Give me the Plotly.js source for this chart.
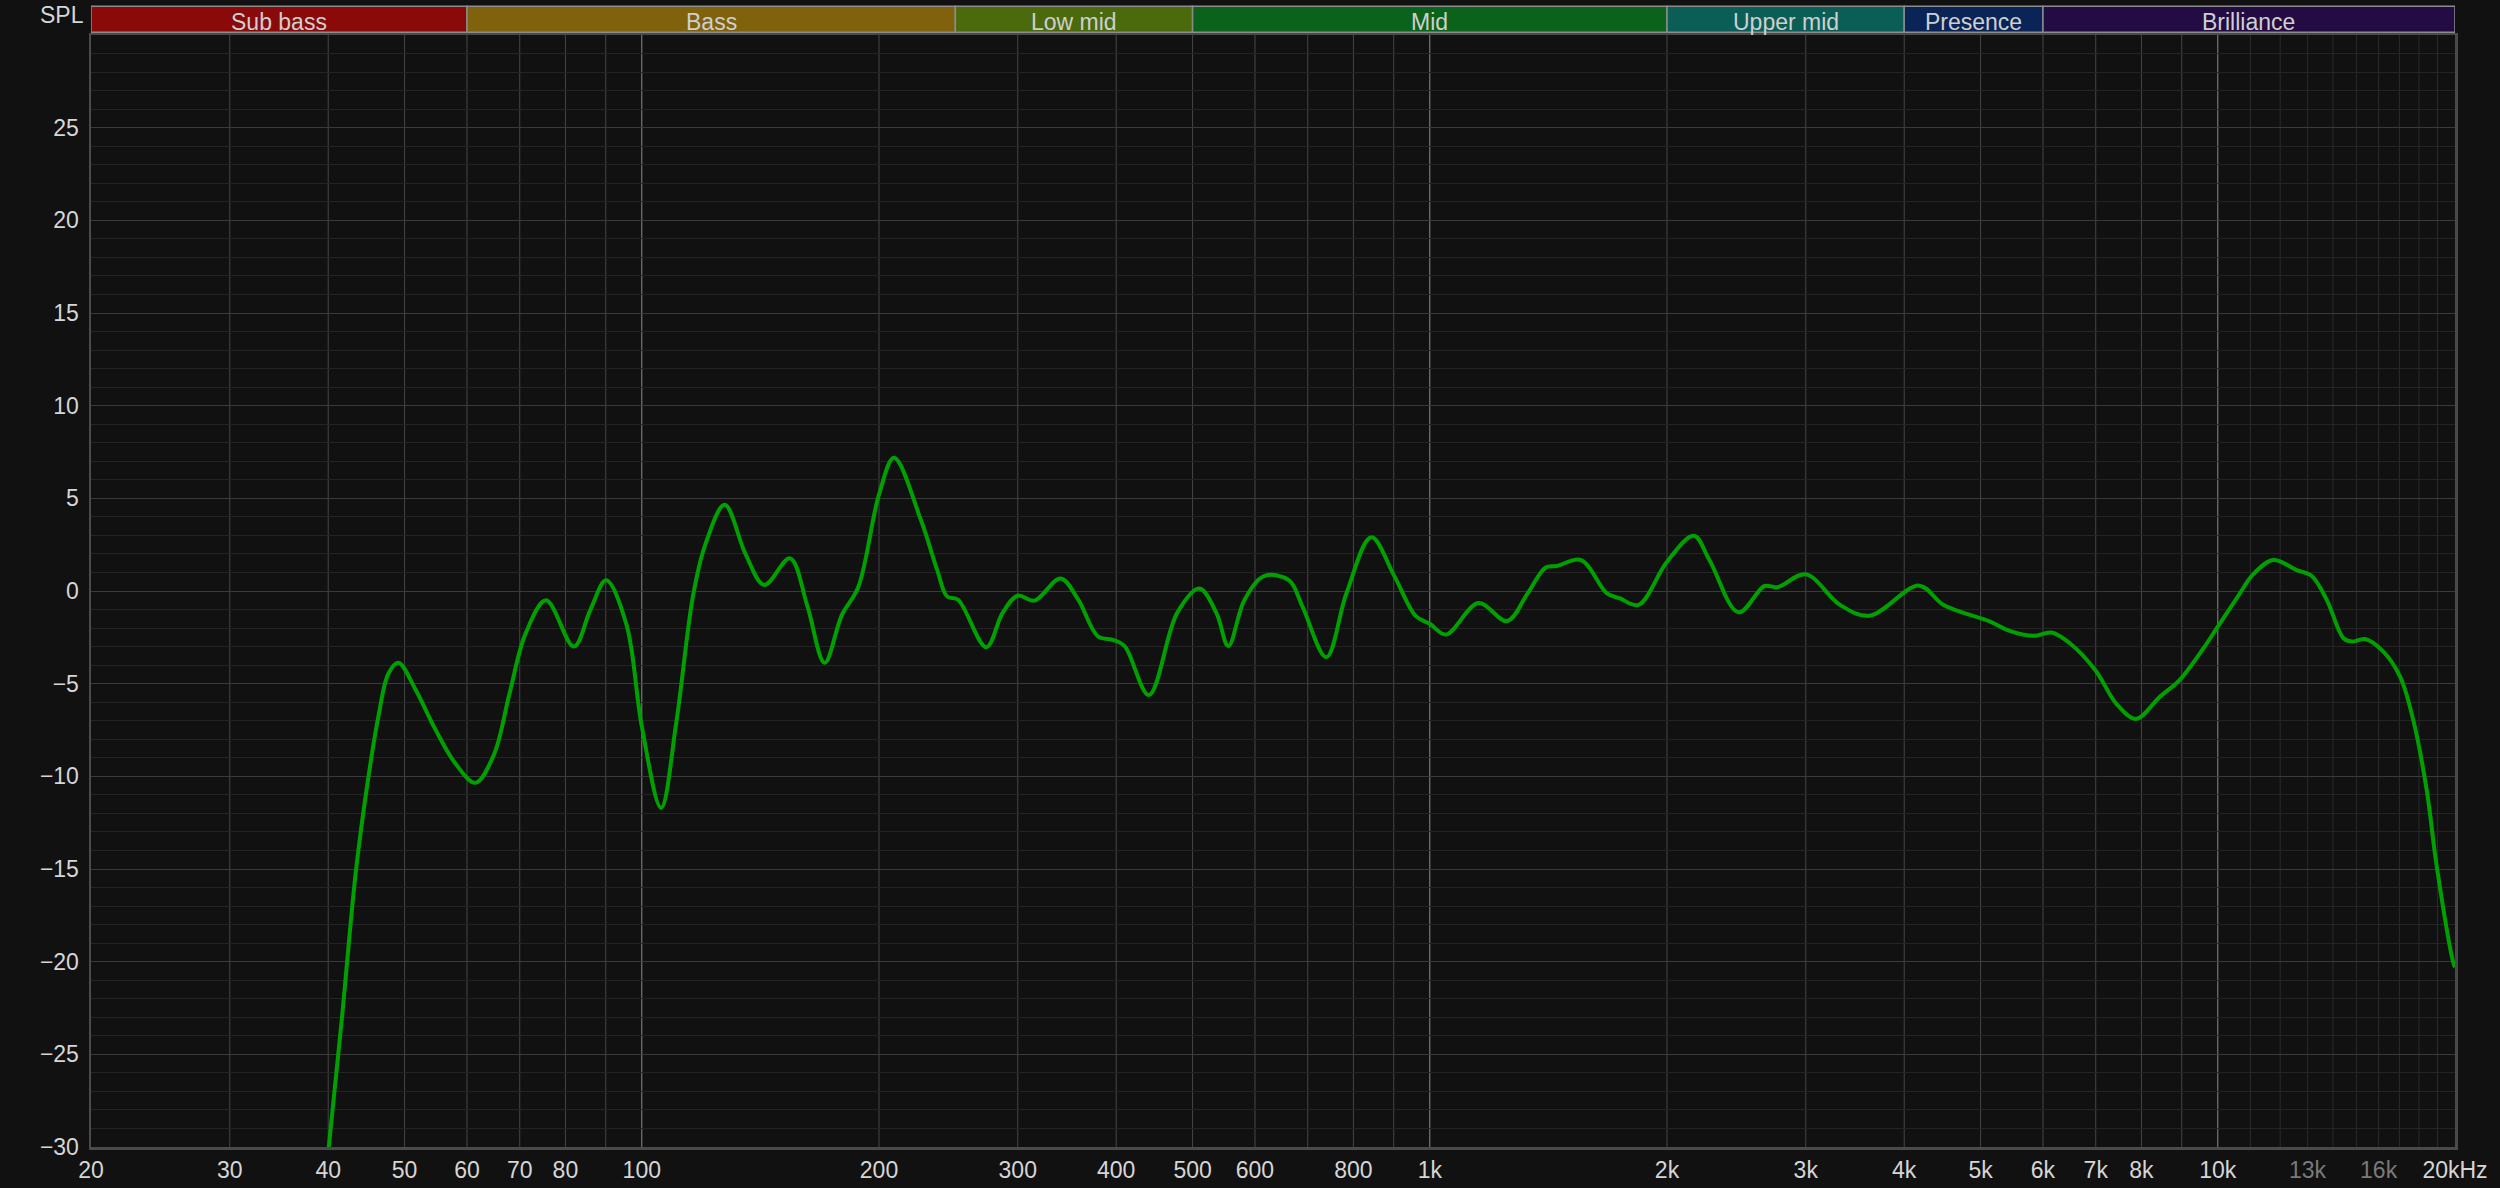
<!DOCTYPE html>
<html>
<head>
<meta charset="utf-8">
<script src="https://cdn.plot.ly/plotly-3.0.1.min.js"></script>
<style>
  html, body { margin: 0; padding: 0; background: #111111; }
  #chart { width: 2500px; height: 1188px; }
</style>
</head>
<body>
<div id="chart"></div>
<script>
// ---- data ----
const freqHz = [40, 41.6, 43.4, 45.0, 46.3, 47.7, 49.1, 51.6, 54.7, 58.1, 61.5, 64.9, 67.9, 71.2, 75.6, 82.0, 86.0, 90.1, 95.6, 100,
  105.8, 110.6, 116.1, 120.3, 127.4, 135.5, 143.0, 154.2, 162.2, 170.6, 179.4, 188.2, 200, 209, 226, 237, 244, 252, 273.6, 287,
  300, 315, 340, 358, 379, 397, 410, 440, 478, 510, 536, 555, 582, 617, 663, 689, 739, 784, 843, 902,
  960, 1000, 1048, 1153, 1253, 1331, 1403, 1449, 1556, 1678, 1741, 1840, 2000, 2163, 2264, 2465, 2660, 2760, 3000, 3316,
  3616, 4178, 4488, 5143, 5430, 5840, 6150, 6490, 7000, 7440, 7870, 8450, 8950, 9590, 10000, 10570, 11100, 11760, 12590, 13160,
  13750, 14440, 14790, 15380, 16220, 17030, 17700, 18410, 18960, 19900, 20000];
const splDb = [-30.3, -23.2, -15.0, -10.0, -6.8, -4.45, -3.87, -5.3, -7.46, -9.35, -10.35, -8.84, -5.58, -2.3, -0.5, -3.0, -1.05, 0.58, -1.8, -7.3,
  -11.7, -7.1, -0.3, 2.46, 4.65, 1.96, 0.33, 1.76, -0.8, -3.87, -1.3, 0.2, 5.2, 7.19, 3.84, 1.15, -0.29, -0.47, -3.03, -1.18,
  -0.25, -0.52, 0.68, -0.47, -2.44, -2.65, -2.97, -5.61, -1.18, 0.13, -1.18, -2.97, -0.47, 0.82, 0.57, -0.82, -3.57, -0.11, 2.9, 0.79,
  -1.36, -1.77, -2.35, -0.65, -1.62, -0.13, 1.27, 1.35, 1.67, -0.13, -0.39, -0.75, 1.58, 2.98, 1.67, -1.15, 0.27, 0.2, 0.9, -0.75,
  -1.33, 0.29, -0.75, -1.65, -2.14, -2.42, -2.24, -2.82, -4.3, -6.1, -6.9, -5.69, -4.79, -3.09, -1.92, -0.39, 0.92, 1.67, 1.13, 0.81,
  -0.48, -2.55, -2.73, -2.59, -3.27, -4.61, -6.95, -10.72, -14.85, -20.05, -20.3];

const bandNames = ['Sub bass', 'Bass', 'Low mid', 'Mid', 'Upper mid', 'Presence', 'Brilliance'];
const bandEdgesHz = [20, 60, 250, 500, 2000, 4000, 6000, 20000];
const bandColors = ['#8a0a0a', '#80620c', '#4a6a0c', '#0b621b', '#0b5e56', '#0b2457', '#230b44'];

const xTickVals = [20, 30, 40, 50, 60, 70, 80, 100, 200, 300, 400, 500, 600, 800, 1000, 2000, 3000, 4000, 5000, 6000, 7000, 8000, 10000, 13000, 16000, 20000];
const xTickText = ['20', '30', '40', '50', '60', '70', '80', '100', '200', '300', '400', '500', '600', '800', '1k', '2k', '3k', '4k', '5k', '6k', '7k', '8k', '10k', '13k', '16k', '20kHz'];
const dimTickLabels = ['13k', '16k'];
const yTickVals = [-30, -25, -20, -15, -10, -5, 0, 5, 10, 15, 20, 25];

const gridHz = [30, 40, 50, 60, 70, 80, 90, 200, 300, 400, 500, 600, 700, 800, 900, 2000, 3000, 4000, 5000, 6000, 7000, 8000, 9000];
const decadeHz = [100, 1000, 10000];
const fineGridHz = [11000, 12000, 13000, 14000, 15000, 16000, 17000, 18000, 19000];

// ---- styling ----
const FONT = '"Liberation Sans", Arial, "DejaVu Sans", sans-serif';
const shapes = [];
function vline(f, color, width) {
  shapes.push({ type: 'line', xref: 'x', yref: 'paper', x0: f, x1: f, y0: 0, y1: 1,
    line: { color: color, width: width }, layer: 'between' });
}
fineGridHz.forEach(f => vline(f, '#2b2b2b', 1));
gridHz.forEach(f => vline(f, '#464646', 1));
decadeHz.forEach(f => vline(f, '#8a8a8a', 1));

const annotations = [];
for (let i = 0; i < bandNames.length; i++) {
  const f0 = bandEdgesHz[i], f1 = bandEdgesHz[i + 1];
  shapes.push({ type: 'rect', xref: 'x', yref: 'paper', ysizemode: 'pixel', yanchor: 1,
    x0: f0, x1: f1, y0: 2.7, y1: 28.7, fillcolor: bandColors[i],
    line: { color: '#8c8c8c', width: 1.5 }, layer: 'above' });
  annotations.push({ xref: 'x', yref: 'paper', x: (Math.log10(f0) + Math.log10(f1)) / 2, y: 1, yanchor: 'middle', xanchor: 'center',
    yshift: 13.5, showarrow: false, text: bandNames[i], font: { family: FONT, size: 23, color: '#cfcfcf' } });
}
annotations.push({ xref: 'paper', yref: 'paper', x: 0, y: 1, xanchor: 'right', yanchor: 'middle', xshift: -5, yshift: 20,
  showarrow: false, text: 'SPL', font: { family: FONT, size: 23, color: '#d6d6d6' } });

const tickText = xTickText.map(t => dimTickLabels.includes(t) ? '<span style="color:#7a7a7a">' + t + '</span>' : t);

const trace = {
  x: freqHz, y: splDb, type: 'scatter', mode: 'lines',
  line: { color: '#00a000', width: 4, shape: 'spline', smoothing: 1 },
  hoverinfo: 'skip'
};

const layout = {
  width: 2500, height: 1188,
  paper_bgcolor: '#111111', plot_bgcolor: '#111111',
  margin: { l: 91, r: 45, t: 35, b: 41, pad: 0 },
  showlegend: false,
  font: { family: FONT, color: '#d6d6d6', size: 23 },
  xaxis: {
    type: 'log', range: [Math.log10(20), Math.log10(20000)],
    tickmode: 'array', tickvals: xTickVals, ticktext: tickText,
    showgrid: false, zeroline: false, ticks: '',
    showline: true, mirror: true, linecolor: '#4a4a4a', linewidth: 2.5,
    tickfont: { family: FONT, size: 23, color: '#d6d6d6' },
    ticklabelstandoff: 1
  },
  yaxis: {
    range: [-30, 30], tickmode: 'array', tickvals: yTickVals,
    showgrid: true, gridcolor: '#3a3a3a', gridwidth: 1, zeroline: false, ticks: '',
    showline: true, mirror: true, linecolor: '#4a4a4a', linewidth: 2.5,
    tickfont: { family: FONT, size: 23, color: '#d6d6d6' },
    ticklabelstandoff: 5,
    minor: { tickmode: 'linear', tick0: 0, dtick: 1, showgrid: true, gridcolor: '#242424', gridwidth: 1, ticks: '' }
  },
  shapes: shapes,
  annotations: annotations
};

Plotly.newPlot('chart', [trace], layout, { staticPlot: true, displayModeBar: false });
</script>
</body>
</html>
